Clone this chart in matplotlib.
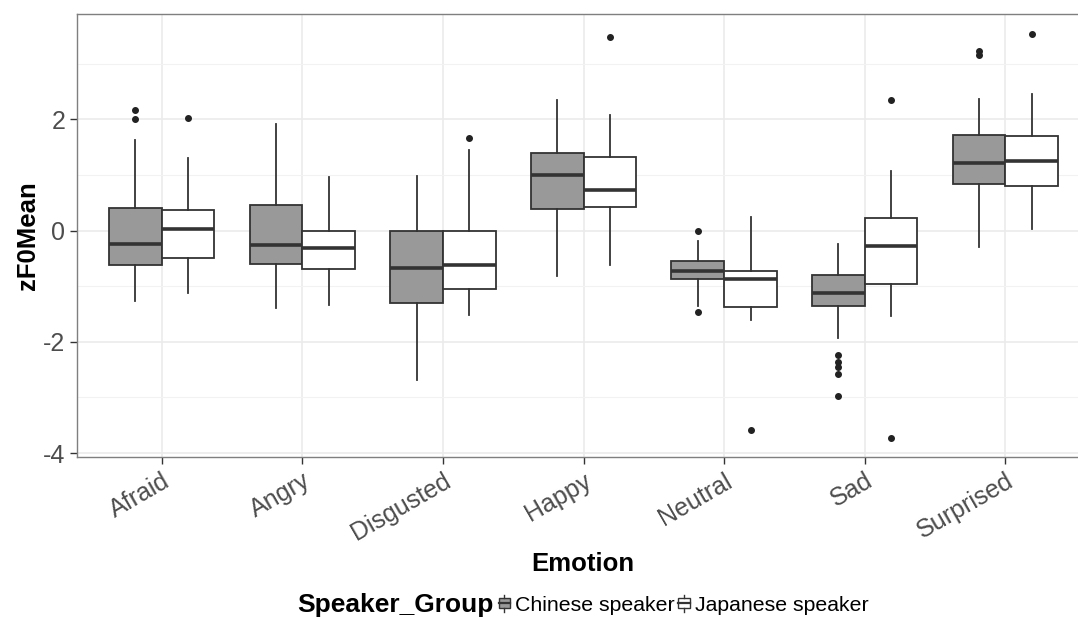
import matplotlib
matplotlib.use("Agg")
import matplotlib.pyplot as plt
from matplotlib.legend_handler import HandlerBase
from matplotlib.patches import Rectangle
from matplotlib.lines import Line2D

plt.rcParams['font.family'] = ['Liberation Sans', 'DejaVu Sans']
plt.rcParams['axes.unicode_minus'] = False

emotions = ["Afraid", "Angry", "Disgusted", "Happy", "Neutral", "Sad", "Surprised"]
groups = ["Chinese speaker", "Japanese speaker"]
fills = ["#999999", "#FFFFFF"]

# five-number summaries: whislo, q1, med, q3, whishi
chinese_stats = [
    [-1.26, -0.62, -0.24, 0.40, 1.62],
    [-1.40, -0.61, -0.26, 0.46, 1.91],
    [-2.68, -1.31, -0.67, 0.00, 0.98],
    [-0.82, 0.39, 1.00, 1.40, 2.34],
    [-1.36, -0.88, -0.73, -0.54, -0.18],
    [-1.94, -1.36, -1.13, -0.80, -0.24],
    [-0.29, 0.84, 1.21, 1.72, 2.37],
]
japanese_stats = [
    [-1.13, -0.49, 0.02, 0.37, 1.31],
    [-1.33, -0.70, -0.31, 0.00, 0.96],
    [-1.52, -1.05, -0.62, -0.01, 1.44],
    [-0.62, 0.43, 0.73, 1.32, 2.07],
    [-1.60, -1.38, -0.88, -0.72, 0.24],
    [-1.53, -0.96, -0.27, 0.23, 1.07],
    [0.03, 0.80, 1.25, 1.70, 2.46],
]
chinese_fliers = [
    [2.17, 2.00],
    [],
    [],
    [],
    [-0.01, -1.46],
    [-2.23, -2.37, -2.45, -2.58, -2.97],
    [3.22, 3.15],
]
japanese_fliers = [
    [2.03],
    [],
    [1.67],
    [3.47],
    [-3.59],
    [2.34, -3.72],
    [3.53],
]

fig = plt.figure(figsize=(10.78, 6.18), dpi=100)
# the panel runs a little past the right edge of the picture, as in the original
ax = fig.add_axes([0.0717, 0.2605, 0.9392, 0.7168])

width = 0.375
edge = "#333333"
for g, (stats, fliers) in enumerate([(chinese_stats, chinese_fliers),
                                     (japanese_stats, japanese_fliers)]):
    bxp_stats = []
    for s, f in zip(stats, fliers):
        bxp_stats.append({"whislo": s[0], "q1": s[1], "med": s[2],
                          "q3": s[3], "whishi": s[4], "fliers": f})
    pos = [i + 1 + (g - 0.5) * width for i in range(len(emotions))]
    ax.bxp(bxp_stats, positions=pos, widths=width, patch_artist=True,
           showcaps=False, manage_ticks=False,
           boxprops=dict(facecolor=fills[g], edgecolor=edge, linewidth=1.3),
           whiskerprops=dict(color=edge, linewidth=1.3),
           medianprops=dict(color=edge, linewidth=2.6, solid_capstyle="butt"),
           flierprops=dict(marker="o", markersize=4, markerfacecolor="#222222",
                           markeredgecolor="#222222"),
           zorder=3)

ax.set_xlim(0.4, 7.6)
ax.set_ylim(-4.07, 3.89)
ax.set_xticks(range(1, len(emotions) + 1))
ax.set_xticklabels(emotions, rotation=30, ha="right", rotation_mode="anchor")
ax.set_yticks([-4, -2, 0, 2])
ax.set_yticks([-3, -1, 1, 3], minor=True)
ax.tick_params(axis="both", labelsize=18, labelcolor="#4D4D4D", color="#333333",
               length=5, width=1)
ax.tick_params(axis="y", which="minor", length=0)
ax.grid(True, which="major", color="#EBEBEB", linewidth=1.2, zorder=0)
ax.grid(True, which="minor", axis="y", color="#F2F2F2", linewidth=0.8, zorder=0)
ax.set_axisbelow(True)
for sp in ax.spines.values():
    sp.set_color("#7F7F7F")
    sp.set_linewidth(1)

ax.set_xlabel("Emotion", fontsize=18.5, fontweight="bold")
ax.set_ylabel("zF0Mean", fontsize=18.5, fontweight="bold")
ax.xaxis.set_label_coords(0.499, -0.215)
ax.yaxis.set_label_coords(-0.037, 0.5)


class BoxKeyHandler(HandlerBase):
    def create_artists(self, legend, orig_handle, xdescent, ydescent,
                       width, height, fontsize, trans):
        fc = orig_handle.get_facecolor()
        cx = width / 2 - xdescent
        bw = width * 0.9
        rect = Rectangle((cx - bw / 2, -ydescent + height * 0.2), bw, height * 0.6,
                         facecolor=fc, edgecolor=edge, linewidth=1, transform=trans)
        w1 = Line2D([cx, cx], [-ydescent, -ydescent + height * 0.2],
                    color=edge, linewidth=1, transform=trans)
        w2 = Line2D([cx, cx], [-ydescent + height * 0.8, -ydescent + height],
                    color=edge, linewidth=1, transform=trans)
        med = Line2D([cx - bw / 2, cx + bw / 2], [-ydescent + height * 0.5] * 2,
                     color=edge, linewidth=1.6, transform=trans)
        return [rect, w1, w2, med]


handles = [Rectangle((0, 0), 1, 1, facecolor=c) for c in fills]
fig.text(297 / 1078, 1 - 605 / 618, "Speaker_Group", fontsize=19,
         fontweight="bold", ha="left", va="center")
fig.legend(handles, groups, loc="center left", ncol=2,
           bbox_to_anchor=(498 / 1078, 1 - 605 / 618), frameon=False,
           fontsize=15.3, handler_map={Rectangle: BoxKeyHandler()},
           handlelength=0.6, handleheight=0.8, handletextpad=0.2,
           columnspacing=0.15, borderpad=0, borderaxespad=0)

fig.savefig("out.png", dpi=100)
